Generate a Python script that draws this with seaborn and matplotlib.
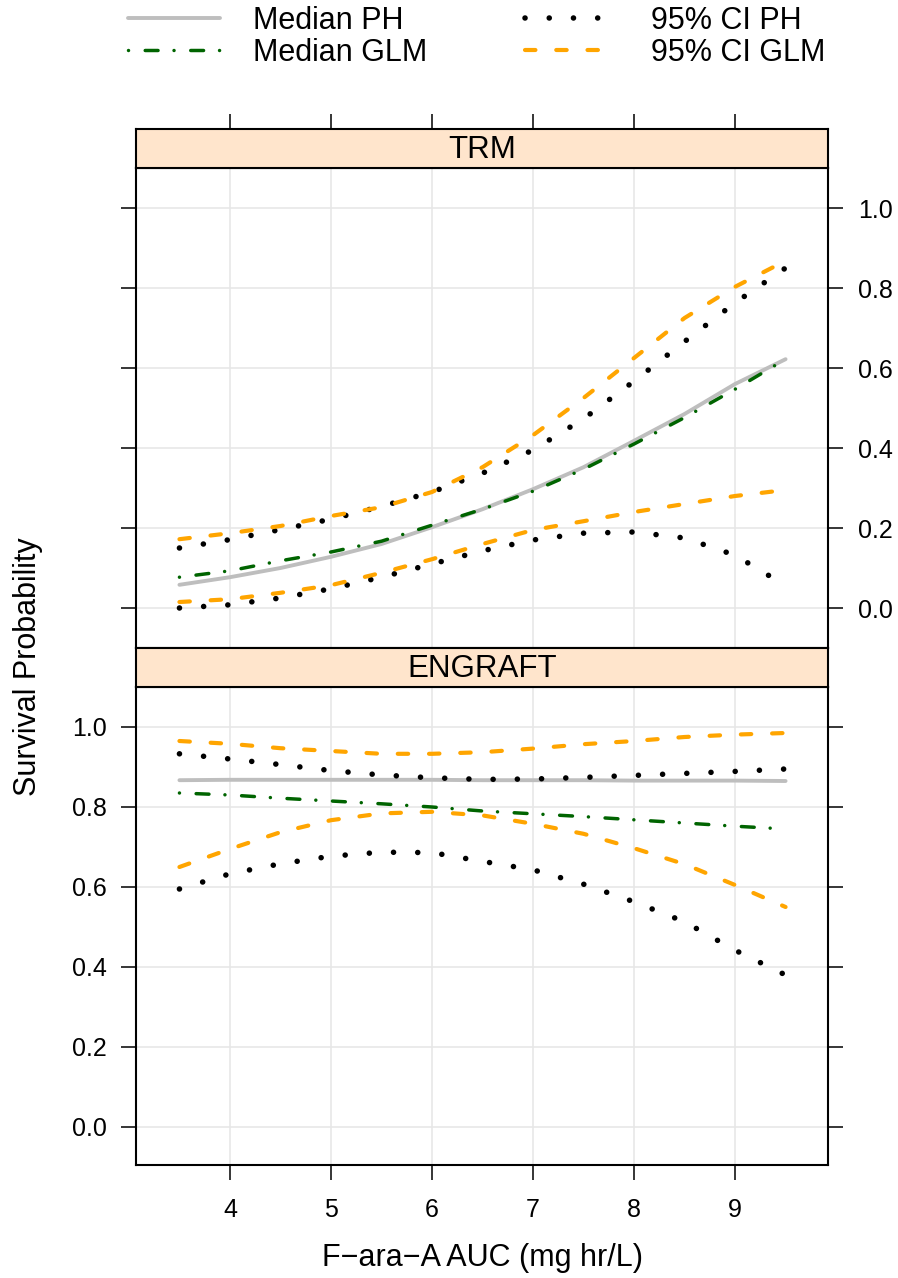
import matplotlib
matplotlib.use("Agg")
import matplotlib.pyplot as plt
import numpy as np
import pandas as pd
import seaborn as sns

# ---------------- data ----------------
auc = [3.5, 4.0, 4.5, 5.0, 5.5, 6.0, 6.5, 7.0, 7.5, 8.0, 8.5, 9.0, 9.5]

trm_median_ph = [0.058, 0.077, 0.100, 0.128, 0.160, 0.202, 0.247, 0.297, 0.352, 0.418, 0.485, 0.560, 0.622]
trm_median_glm = [0.077, 0.093, 0.118, 0.140, 0.167, 0.207, 0.247, 0.292, 0.347, 0.410, 0.476, 0.547, 0.622]
trm_ci_ph_up = [0.150, 0.171, 0.196, 0.222, 0.254, 0.290, 0.337, 0.395, 0.473, 0.567, 0.666, 0.763, 0.850]
trm_ci_ph_lo = [0.000, 0.008, 0.025, 0.048, 0.077, 0.110, 0.143, 0.170, 0.187, 0.190, 0.175, 0.132, 0.056]
trm_ci_glm_up = [0.172, 0.187, 0.205, 0.230, 0.252, 0.290, 0.352, 0.432, 0.525, 0.625, 0.725, 0.803, 0.868]
trm_ci_glm_lo = [0.015, 0.022, 0.038, 0.057, 0.088, 0.122, 0.160, 0.195, 0.217, 0.240, 0.260, 0.280, 0.295]

eng_median_ph = [0.867, 0.868, 0.868, 0.868, 0.868, 0.868, 0.867, 0.867, 0.867, 0.866, 0.866, 0.866, 0.865]
eng_median_glm = [0.835, 0.830, 0.822, 0.815, 0.808, 0.800, 0.790, 0.783, 0.776, 0.768, 0.760, 0.752, 0.745]
eng_ci_ph_up = [0.933, 0.920, 0.906, 0.891, 0.880, 0.873, 0.869, 0.870, 0.874, 0.879, 0.884, 0.889, 0.895]
eng_ci_ph_lo = [0.595, 0.633, 0.658, 0.677, 0.687, 0.686, 0.664, 0.643, 0.607, 0.563, 0.513, 0.442, 0.380]
eng_ci_glm_up = [0.965, 0.958, 0.947, 0.940, 0.933, 0.933, 0.937, 0.946, 0.957, 0.965, 0.975, 0.981, 0.985]
eng_ci_glm_lo = [0.650, 0.695, 0.737, 0.767, 0.784, 0.788, 0.779, 0.758, 0.733, 0.697, 0.657, 0.605, 0.550]

panels = ["TRM", "ENGRAFT"]
series_names = ["Median PH", "Median GLM", "95% CI PH", "95% CI GLM"]
x_ticks = [4, 5, 6, 7, 8, 9]
y_ticks = [0.0, 0.2, 0.4, 0.6, 0.8, 1.0]

panel_data = {
    "TRM": [("Median PH", trm_median_ph),
            ("95% CI PH", trm_ci_ph_up), ("95% CI PH", trm_ci_ph_lo),
            ("Median GLM", trm_median_glm),
            ("95% CI GLM", trm_ci_glm_up), ("95% CI GLM", trm_ci_glm_lo)],
    "ENGRAFT": [("Median PH", eng_median_ph),
                ("95% CI PH", eng_ci_ph_up), ("95% CI PH", eng_ci_ph_lo),
                ("Median GLM", eng_median_glm),
                ("95% CI GLM", eng_ci_glm_up), ("95% CI GLM", eng_ci_glm_lo)],
}

# ---------------- styles ----------------
styles = {
    "Median PH": dict(color="#BEBEBE", lw=2.8, linestyle="-"),
    "Median GLM": dict(color="#006400", lw=2.5, linestyle=(0, (0.01, 4.8, 3.7, 4.6))),
    "95% CI PH": dict(color="black", lw=4.0, linestyle=(0, (0.01, 4.35))),
    "95% CI GLM": dict(color="#FFA500", lw=3.0, linestyle=(0, (2.5, 5.0))),
}

plt.rcParams["font.family"] = ["Liberation Sans", "DejaVu Sans"]

W, H = 898, 1278
fig = plt.figure(figsize=(W / 100, H / 100), dpi=100)


def box(l, t, r, b):
    return [l / W, 1 - b / H, (r - l) / W, (b - t) / H]


ax_trm = fig.add_axes(box(136, 168, 828, 648))
strip_trm = fig.add_axes(box(136, 129, 828, 168))
ax_eng = fig.add_axes(box(136, 687, 828, 1165))
strip_eng = fig.add_axes(box(136, 648, 828, 687))

axes = {"TRM": ax_trm, "ENGRAFT": ax_eng}
strips = {"TRM": strip_trm, "ENGRAFT": strip_eng}

XLIM = (3.07, 9.92)
TICK_LEN = 10.8
TICK_W = 1.1
SPINE_W = 1.5
TICK_FS = 18

legend_handles = {}
for pname in panels:
    ax = axes[pname]
    for sname, vals in panel_data[pname]:
        df = pd.DataFrame({"auc": auc, "prob": vals})
        st = styles[sname]
        sns.lineplot(data=df, x="auc", y="prob", ax=ax, color=st["color"],
                     linewidth=st["lw"], linestyle=st["linestyle"],
                     dash_capstyle="round", solid_capstyle="round",
                     errorbar=None, estimator=None, label=sname)
        line = ax.get_lines()[-1]
        if pname == "TRM" and sname not in legend_handles:
            legend_handles[sname] = line
    if ax.get_legend() is not None:
        ax.get_legend().remove()
    ax.set_xlabel("")
    ax.set_ylabel("")
    ax.set_xlim(*XLIM)
    ax.set_xticks(x_ticks)
    ax.set_yticks(y_ticks)
    ax.grid(True, color="#E6E6E6", lw=1.1)
    ax.set_axisbelow(True)
    for sp in ax.spines.values():
        sp.set_color("black")
        sp.set_linewidth(SPINE_W)

ax_trm.set_ylim(-0.1, 1.1)
ax_eng.set_ylim(-0.095, 1.1)

# TRM: no x ticks; y ticks both sides, labels on right
ax_trm.tick_params(axis="x", bottom=False, top=False, labelbottom=False, labeltop=False)
ax_trm.tick_params(axis="y", left=True, right=True, labelleft=False, labelright=True,
                   direction="out", length=TICK_LEN, width=TICK_W, pad=11, labelsize=TICK_FS,
                   colors="black")
ax_trm.set_yticklabels([f"{v:.1f}" for v in y_ticks])

# ENGRAFT: x ticks bottom with labels; y labels left, ticks right
ax_eng.tick_params(axis="x", bottom=True, top=False, labelbottom=True, direction="out",
                   length=TICK_LEN, width=TICK_W, pad=13, labelsize=TICK_FS, colors="black")
ax_eng.tick_params(axis="y", left=True, right=True, labelleft=True, labelright=False,
                   direction="out", length=TICK_LEN, width=TICK_W, pad=10, labelsize=TICK_FS,
                   colors="black")
ax_eng.set_xticklabels([str(v) for v in x_ticks])
ax_eng.set_yticklabels([f"{v:.1f}" for v in y_ticks])

# strips
for pname in panels:
    s = strips[pname]
    s.set_facecolor("#FFE5CC")
    s.set_xlim(*XLIM)
    s.set_ylim(0, 1)
    s.set_yticks([])
    s.set_xticks(x_ticks)
    for sp in s.spines.values():
        sp.set_color("black")
        sp.set_linewidth(SPINE_W)
    s.text(0.5, 0.47, pname, transform=s.transAxes, ha="center", va="center",
           fontsize=22.5, color="black")
    s.set_zorder(3)

strip_trm.tick_params(axis="x", top=True, bottom=False, labeltop=False, labelbottom=False,
                      direction="out", length=TICK_LEN, width=TICK_W, colors="black")
strip_eng.tick_params(axis="x", top=False, bottom=False, labeltop=False, labelbottom=False)

# axis titles
fig.text(28 / W, 1 - 667 / H, "Survival Probability", rotation=90, ha="center",
         va="center", fontsize=22)
fig.text(482 / W, 1 - 1258 / H, "F\u2212ara\u2212A AUC (mg hr/L)", ha="center",
         va="center", fontsize=22)

# legend (columns: medians, then CIs)
order = ["Median PH", "Median GLM", "95% CI PH", "95% CI GLM"]
fig.legend([legend_handles[n] for n in order], order, ncol=2, loc="upper left",
           bbox_to_anchor=(128 / W, 1 - 6 / H), frameon=False, fontsize=22,
           handlelength=3.0, handletextpad=1.1, columnspacing=3.2, borderpad=0,
           borderaxespad=0, labelspacing=0.05)

fig.savefig("out.png", dpi=100)
